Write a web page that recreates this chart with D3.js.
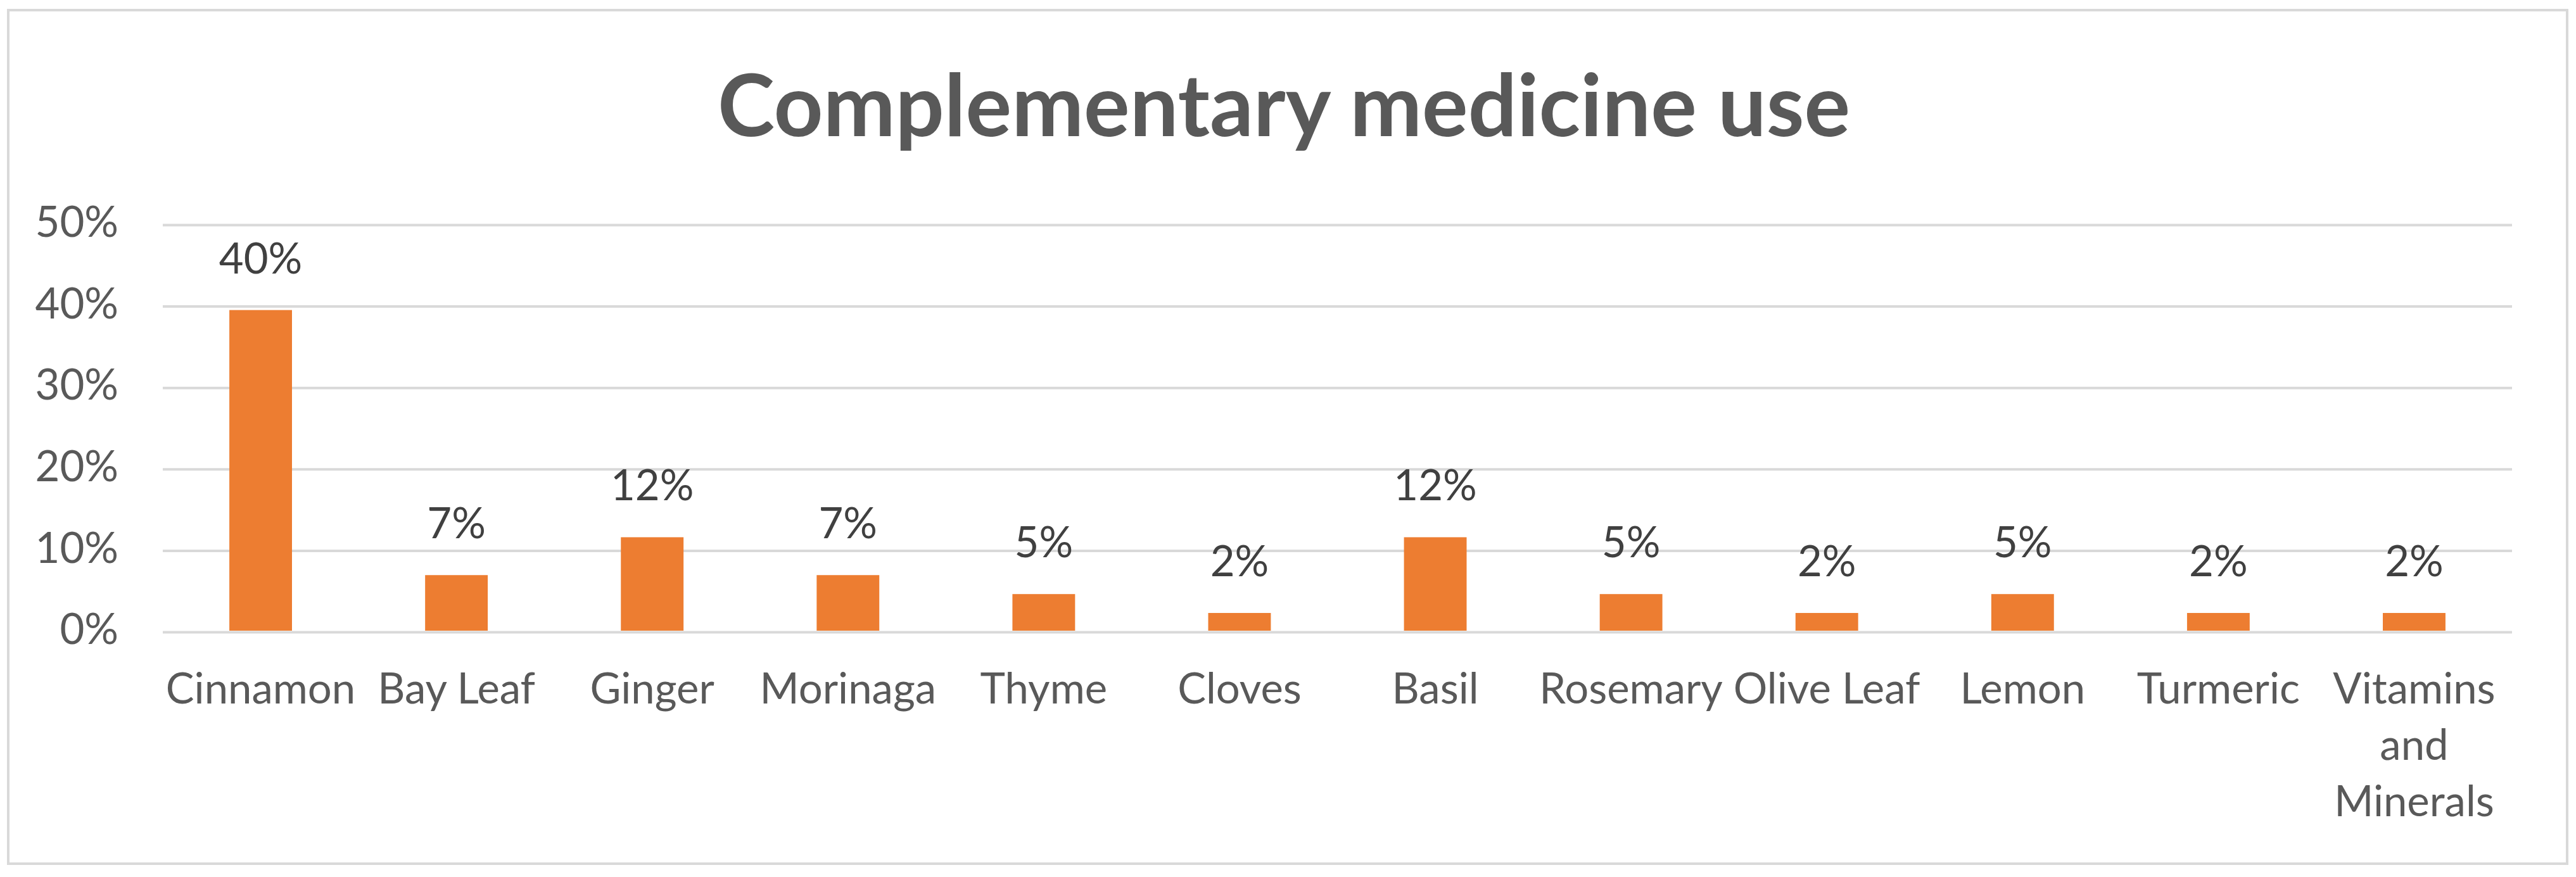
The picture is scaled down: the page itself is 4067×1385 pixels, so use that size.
<!DOCTYPE html>
<html>
<head>
<meta charset="utf-8">
<script src="https://cdn.jsdelivr.net/npm/d3@7"></script>
<style>
  html, body { margin: 0; padding: 0; background: #fff; }
  svg { display: block; }
</style>
</head>
<body>
<svg id="chart" width="4067" height="1385"></svg>
<script>
const title = "Complementary medicine use";
const categories = ["Cinnamon", "Bay Leaf", "Ginger", "Morinaga", "Thyme", "Cloves", "Basil", "Rosemary", "Olive Leaf", "Lemon", "Turmeric", "Vitamins and Minerals"];
const values = [0.3953, 0.0698, 0.1163, 0.0698, 0.0465, 0.0233, 0.1163, 0.0465, 0.0233, 0.0465, 0.0233, 0.0233];
const yTicks = [0, 0.1, 0.2, 0.3, 0.4, 0.5];
const categoryLines = {"Vitamins and Minerals": ["Vitamins", "and", "Minerals"]};

const W = 4067, H = 1385;
const svg = d3.select("#chart");
const FONT = "Lato, 'Open Sans', sans-serif";

// frame
svg.append("rect").attr("x", 13).attr("y", 16).attr("width", 4040).attr("height", 1348)
  .attr("fill", "#fff").attr("stroke", "#d9d9d9").attr("stroke-width", 4);

const plot = {left: 257, right: 3966, top: 355, bottom: 998};

const x = d3.scaleBand().domain(categories).range([plot.left, plot.right])
  .paddingInner(0.68).paddingOuter(0.34);
const y = d3.scaleLinear().domain([0, 0.5]).range([plot.bottom, plot.top]);

// gridlines
const yAxis = d3.axisLeft(y).tickValues(yTicks).tickSize(-(plot.right - plot.left))
  .tickFormat(d3.format(".0%")).tickPadding(70);
const ga = svg.append("g").attr("transform", `translate(${plot.left},0)`).call(yAxis);
ga.select(".domain").remove();
ga.selectAll(".tick line").attr("stroke", "#d9d9d9").attr("stroke-width", 4);
ga.selectAll(".tick text").attr("fill", "#595959").attr("font-family", FONT)
  .attr("font-size", 67).attr("dy", "0.28em");

// bars
svg.append("g").selectAll("rect").data(categories).join("rect")
  .attr("x", d => x(d))
  .attr("width", x.bandwidth())
  .attr("y", (d, i) => y(values[i]))
  .attr("height", (d, i) => y(0) - y(values[i]) - 2)
  .attr("fill", "#ED7D31");

// data labels
svg.append("g").selectAll("text").data(categories).join("text")
  .attr("x", d => x(d) + x.bandwidth() / 2)
  .attr("y", (d, i) => y(values[i]) - 58)
  .attr("text-anchor", "middle")
  .attr("font-family", FONT).attr("font-size", 67)
  .attr("fill", "#404040")
  .text((d, i) => d3.format(".0%")(values[i]));

// x labels
const xl = svg.append("g").selectAll("text").data(categories).join("text")
  .attr("x", d => x(d) + x.bandwidth() / 2)
  .attr("y", 1111)
  .attr("text-anchor", "middle")
  .attr("font-family", FONT).attr("font-size", 67)
  .attr("fill", "#595959");
xl.each(function(d) {
  const lines = categoryLines[d] || [d];
  const t = d3.select(this);
  lines.forEach((ln, k) => {
    t.append("tspan").attr("x", x(d) + x.bandwidth() / 2)
      .attr("dy", k === 0 ? 0 : 89).text(ln);
  });
});

// title
svg.append("text").attr("x", 2027).attr("y", 215)
  .attr("text-anchor", "middle")
  .attr("font-family", FONT).attr("font-weight", "bold").attr("font-size", 136)
  .attr("fill", "#595959")
  .text(title);
</script>
</body>
</html>
